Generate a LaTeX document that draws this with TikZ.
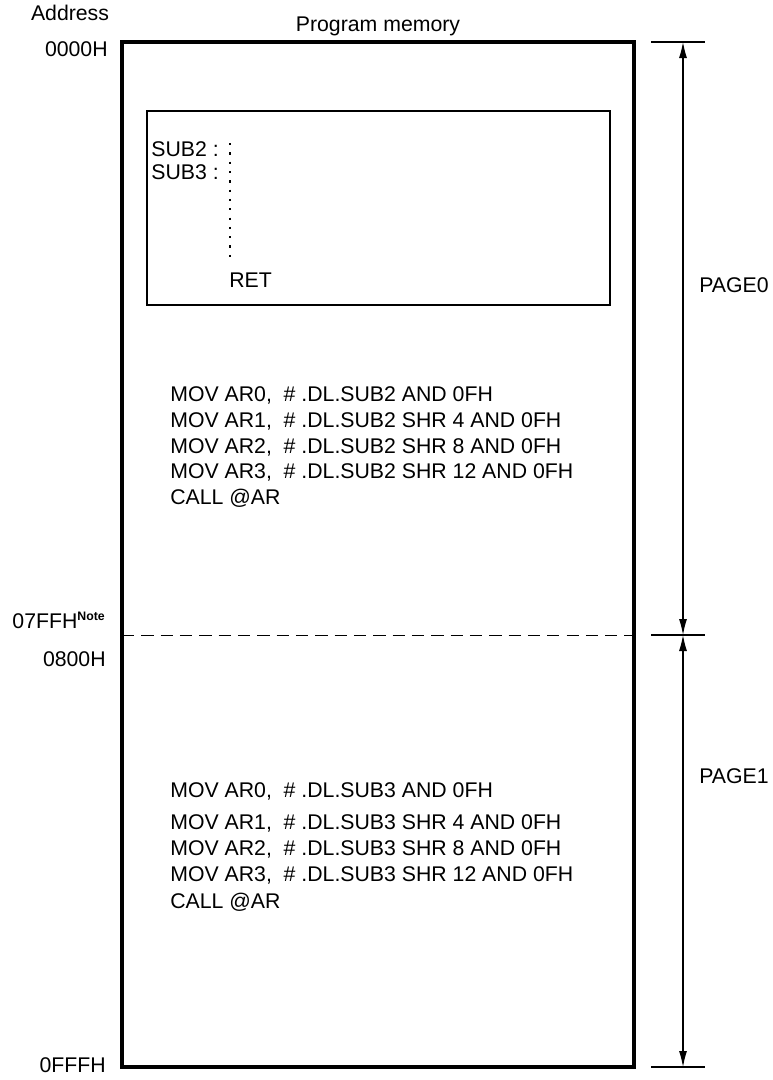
\documentclass[tikz,border=0pt]{standalone}
\usepackage{fontspec}
\setmainfont{Liberation Sans}
\usetikzlibrary{arrows.meta}
\tikzset{
  txt/.style={inner sep=0pt,anchor=base west,font=\fontsize{12.1}{14}\selectfont},
  addr/.style={inner sep=0pt,anchor=base east,font=\fontsize{12.1}{14}\selectfont},
  dimline/.style={line width=0.6pt,{Latex[length=3.2mm,width=1.6mm]}-{Latex[length=3.2mm,width=1.6mm]}},
  tick/.style={line width=0.6pt}
}

\begin{document}
\begin{tikzpicture}[x=0.02cm,y=-0.02cm]
\path[use as bounding box] (0,0) rectangle (772,1080);
% memory block
\draw[line width=1.8pt] (122,42) rectangle (634,1067);
\node[inner sep=0pt,anchor=base,font=\fontsize{12.1}{14}\selectfont] (title) at (378,31) {Program memory};
\node[inner sep=0pt,anchor=base,font=\fontsize{12.1}{14}\selectfont] (addrhead) at (70,20) {Address};
% addresses
\node[addr] (a0000) at (108,56) {0000H};
\node[addr] (a07ff) at (106,628) {07FFH\textsuperscript{\textbf{\fontsize{7}{8}\selectfont Note}}};
\node[addr] (a0800) at (106,666) {0800H};
\node[addr] (a0fff) at (106,1072) {0FFFH};
% page boundary
\coordinate (bl) at (122,635);
\coordinate (br) at (634,635);
\draw[dash pattern=on 7pt off 4pt,line width=0.5pt] (bl) -- (br);
% subroutine box
\draw[line width=1.2pt] (147,111) rectangle (610,305);
\node[txt] (sub2) at (151,156) {SUB2 :};
\node[txt] (sub3) at (151,179) {SUB3 :};
\node[txt] (ret) at (229,287) {RET};
\coordinate (dtop) at (230,143);
\coordinate (dbot) at (230,262);
\draw[line width=1.3pt,dash pattern=on 1.3pt off 4pt] (dtop) -- (dbot);
% PAGE0 code
\node[txt] (p0a) at (170,401) {MOV AR0,\ \ \#\ .DL.SUB2 AND 0FH};
\node[txt] (p0b) at (170,427) {MOV AR1,\ \ \#\ .DL.SUB2 SHR 4 AND 0FH};
\node[txt] (p0c) at (170,453) {MOV AR2,\ \ \#\ .DL.SUB2 SHR 8 AND 0FH};
\node[txt] (p0d) at (170,478) {MOV AR3,\ \ \#\ .DL.SUB2 SHR 12 AND 0FH};
\node[txt] (p0e) at (170,504) {CALL @AR};
% PAGE1 code
\node[txt] (p1a) at (170,797) {MOV AR0,\ \ \#\ .DL.SUB3 AND 0FH};
\node[txt] (p1b) at (170,829) {MOV AR1,\ \ \#\ .DL.SUB3 SHR 4 AND 0FH};
\node[txt] (p1c) at (170,855) {MOV AR2,\ \ \#\ .DL.SUB3 SHR 8 AND 0FH};
\node[txt] (p1d) at (170,881) {MOV AR3,\ \ \#\ .DL.SUB3 SHR 12 AND 0FH};
\node[txt] (p1e) at (170,908) {CALL @AR};
% page dimensions
\coordinate (t0) at (683,42);
\coordinate (t1) at (683,635);
\coordinate (t2) at (683,1067);
\draw[tick] (651,42) -- (705,42);
\draw[tick] (651,635) -- (705,635);
\draw[tick] (651,1067) -- (705,1067);
\draw[dimline] (t0) -- (t1);
\draw[dimline] (t1) -- (t2);
\node[txt] (page0) at (699,292) {PAGE0};
\node[txt] (page1) at (699,783) {PAGE1};
\end{tikzpicture}
\end{document}
